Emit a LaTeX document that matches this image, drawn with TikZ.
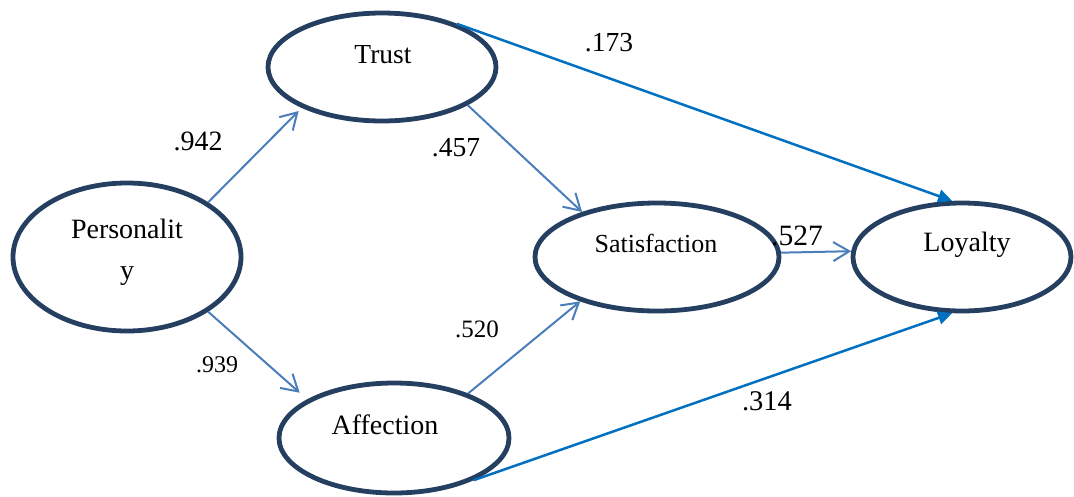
\documentclass[tikz,border=0pt]{standalone}
\usepackage{fontspec}
\setmainfont{Liberation Serif}
\usetikzlibrary{shapes.geometric,arrows.meta}
\definecolor{navy}{HTML}{243F60}
\definecolor{lightarrow}{HTML}{4A7EBB}
\definecolor{directarrow}{HTML}{0070C0}
\tikzset{
  construct/.style={ellipse, draw=navy, line width=4.8pt, inner sep=0pt},
  nodetext/.style={font=\fontsize{28}{41}\selectfont, inner sep=0pt, align=center},
  coef/.style={inner sep=0pt},
  path1/.style={draw=lightarrow, line width=2pt, -{Straight Barb[length=16pt,width=19pt,line width=2pt]}},
  path2/.style={draw=directarrow, line width=2.5pt, -{Triangle[length=14pt,width=13pt]}},
}
\begin{document}
\begin{tikzpicture}[x=1pt,y=-1pt]
\useasboundingbox (0,0) rectangle (1074,496);
% constructs
\node[construct, minimum width=228pt, minimum height=148pt] (pers) at (127,257) {};
\node[construct, minimum width=228pt, minimum height=108pt] (trust) at (382,67) {};
\node[construct, minimum width=244pt, minimum height=108pt] (sat) at (657,257) {};
\node[construct, minimum width=218pt, minimum height=108pt] (loy) at (962,257) {};
\node[construct, minimum width=230pt, minimum height=110pt] (aff) at (394,438) {};
% texts
\node[nodetext] (perst) at (127,252) {Personalit\\y};
\node[nodetext, font=\fontsize{27.5}{32}\selectfont] (trustt) at (383,55) {Trust};
\node[nodetext, font=\fontsize{26}{32}\selectfont] (satt) at (656,243) {Satisfaction};
\node[nodetext] (loyt) at (967,245) {Loyalty};
\node[nodetext] (afft) at (385,425) {Affection};
% paths
\draw[path1, shorten >=4.5pt] (pers.34.5) -- (trust.207.7);
\draw[path1, shorten >=10pt] (pers.-34.5) -- (aff.156.5);
\draw[path1] (trust.-24.4) -- (sat.149.7);
\draw[path1] (aff.31.1) -- (sat.210.3);
\draw[path1] (sat.2.3) -- (loy.177.4);
\draw[path2] (trust.30.6) -- (loy.100);
\draw[path2] (aff.-28) -- (loy.260.7);
% coefficients
\node[coef, font=\fontsize{28}{32}\selectfont] (c942) at (198,141) {.942};
\node[coef, font=\fontsize{24}{28}\selectfont] (c939) at (217,365) {.939};
\node[coef, font=\fontsize{27.5}{32}\selectfont] (c173) at (609,43) {.173};
\node[coef, font=\fontsize{27.5}{32}\selectfont] (c457) at (456,148) {.457};
\node[coef, font=\fontsize{25}{30}\selectfont] (c520) at (477,329) {.520};
\node[coef, font=\fontsize{29.5}{34}\selectfont] (c527) at (797,236) {.527};
\node[coef, font=\fontsize{28.5}{33}\selectfont] (c314) at (767,401) {.314};
\end{tikzpicture}
\end{document}
